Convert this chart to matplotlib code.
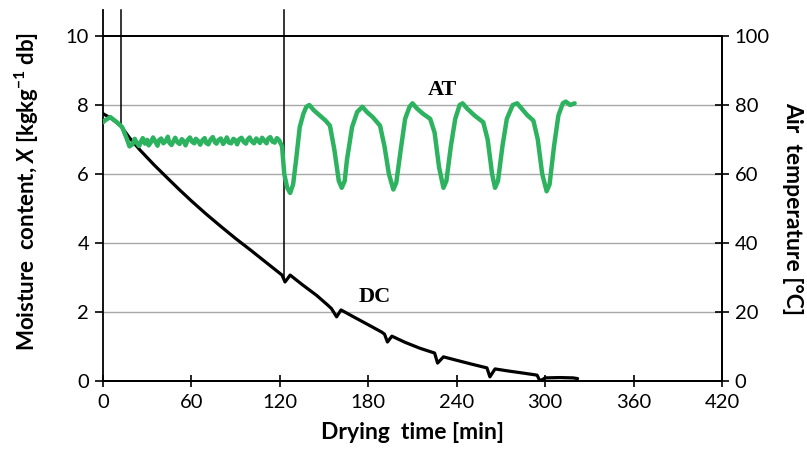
import matplotlib.pyplot as plt

# drying curve (DC): time [min], moisture content [kg/kg db]
dc_time = [0, 6, 12, 18, 25, 35, 45, 52, 60, 70, 80, 90, 100, 110, 121.5, 123.5, 127,
           135, 145, 152.5, 155, 158.5, 161.5, 170, 180, 189, 191, 193, 196, 205, 215,
           225, 227, 231, 240, 250, 260.5, 262.5, 266, 275, 285, 294.5, 296.5, 300,
           310, 319, 322]
dc_moisture = [7.75, 7.6, 7.4, 7.05, 6.7, 6.25, 5.83, 5.54, 5.22, 4.84, 4.48, 4.13, 3.8,
               3.46, 3.07, 2.87, 3.07, 2.8, 2.48, 2.2, 2.1, 1.86, 2.06, 1.86, 1.63, 1.42,
               1.36, 1.13, 1.30, 1.12, 0.95, 0.81, 0.52, 0.70, 0.6, 0.49, 0.38, 0.12, 0.35,
               0.29, 0.23, 0.17, 0.0, 0.09, 0.1, 0.09, 0.07]

# air temperature (AT): time [min], temperature [degC]
at_time = [0, 1.5, 5, 9.5, 13, 16, 18, 20, 21.5, 23, 24.5, 26, 27, 28.5, 30, 31, 32.5, 34,
           35.5, 37, 38, 39.5, 41, 42.5, 44, 45, 46.5, 48, 49, 50.5, 52, 53.5, 55, 56,
           57.5, 59, 60.5, 62, 63, 64.5, 66, 67.5, 69, 70, 71.5, 73, 74.5, 76, 77, 78.5,
           80, 81.5, 83, 84, 85.5, 87, 88.5, 90, 91, 92.5, 94, 95.5, 97, 98, 99.5, 101,
           102.5, 104, 105, 106.5, 108, 109.5, 111, 112, 113.5, 115, 116.5, 118, 119.5,
           121.5, 123, 125, 127, 129, 131, 133.5, 136, 138, 140, 143, 147,
           151, 154, 157, 160, 162, 164, 165.5, 169, 172.5, 176, 179, 183, 188, 191,
           194, 197, 199, 202, 205, 208, 210, 213, 217, 222, 225, 228, 231, 233, 236,
           239, 242, 244, 247, 252, 258, 261, 264, 266, 268, 271, 274, 278, 281, 284,
           288, 292, 295, 298, 301, 303, 306, 309, 312, 314, 317, 320]
at_temp = [75, 75.6, 76.5, 75, 73.6, 70.4, 68, 68.6, 70.2, 69, 68.1, 69.6, 70.4, 68.8,
           69.9, 68.3, 69.2, 70.6, 69.4, 68.2, 69.8, 70.3, 68.9, 69.5, 70.8, 69.1, 68.4,
           69.7, 70.5, 69.2, 68.7, 70.1, 69.4, 68.3, 69.9, 70.6, 69.3, 68.9, 70.2, 69.6,
           68.5, 69.8, 70.4, 69.0, 68.6, 70.0, 70.7, 69.2, 68.8, 69.9, 70.3, 68.7, 69.5,
           70.6, 69.1, 68.9, 70.2, 69.7, 68.6, 70.1, 70.5, 69.3, 68.8, 69.9, 70.6, 69.4,
           68.9, 70.3, 69.8, 69.0, 70.5, 69.6, 68.9, 70.2, 70.7, 69.4, 69.1, 70.4, 69.8,
           68, 60, 56, 54.5, 57, 64, 73.6, 77.5, 79.5, 80, 78.5, 77, 75.5, 74,
           67, 58, 56, 58, 64, 73.6, 78, 79.5, 78, 76.5, 74, 68, 60, 55.5, 57.5, 67,
           76, 79.5, 80.5, 79, 77.5, 76, 72, 62, 56, 58, 68, 76, 80, 80.5, 79, 77, 75,
           70, 60, 56, 58, 68, 76, 80, 80.5, 79, 77, 75.5, 70, 60, 55, 57, 68, 77,
           80.5, 81, 80, 80.5]

# phase boundaries drawn as marker lines (time, moisture where the line ends)
phase_times = [12, 123]
phase_moisture = [7.4, 3.0]

x_ticks = [0, 60, 120, 180, 240, 300, 360, 420]
y_ticks = [0, 2, 4, 6, 8, 10]
t_ticks = [0, 20, 40, 60, 80, 100]

green = '#2db360'

plt.rcParams['font.family'] = ['Lato', 'DejaVu Sans']
plt.rcParams['mathtext.fontset'] = 'custom'
plt.rcParams['mathtext.rm'] = 'Lato:bold'
plt.rcParams['mathtext.it'] = 'Lato:italic:bold'

fig = plt.figure(figsize=(8.07, 4.66), dpi=100)
ax = fig.add_axes([0.1276, 0.1824, 0.7671, 0.7403])
ax2 = ax.twinx()

# grid
for y in y_ticks[1:-1]:
    ax.axhline(y, color='#a8a8a8', lw=1.0, zorder=0)

# curves
ax.plot(dc_time, dc_moisture, color='black', lw=2.3, zorder=3,
        solid_joinstyle='round', solid_capstyle='round')
ax2.plot(at_time, at_temp, color=green, lw=3.2, zorder=3,
         solid_joinstyle='round', solid_capstyle='round')

# phase marker lines, reaching above the frame
ax.axvline(0, ymin=0, ymax=1.075, color='black', lw=1.3, clip_on=False)
for t, m in zip(phase_times, phase_moisture):
    ax.plot([t, t], [m, 10.75], color='black', lw=1.1, clip_on=False, zorder=2)

ax.set_xlim(0, 420)
ax.set_ylim(0, 10)
ax2.set_ylim(0, 100)
ax.set_xticks(x_ticks)
ax.set_yticks(y_ticks)
ax2.set_yticks(t_ticks)

for a in (ax, ax2):
    for s in a.spines.values():
        s.set_linewidth(1.3)
ax.spines['left'].set_visible(False)
ax2.spines['left'].set_visible(False)

ax.tick_params(axis='y', direction='out', length=6, width=1.2, labelsize=14.5, pad=4)
ax.tick_params(axis='x', direction='inout', length=9, width=1.2, labelsize=14.5, pad=5)
ax2.tick_params(axis='y', direction='inout', length=10, width=1.2, labelsize=14.5, pad=4)

ax.text(184.5, 2.43, 'DC', fontsize=16, fontweight='bold',
        family='Liberation Serif', ha='center', va='center')
ax2.text(230, 84.3, 'AT', fontsize=16, fontweight='bold',
         family='Liberation Serif', ha='center', va='center')

ax.set_xlabel('Drying  time [min]', fontsize=16.5, fontweight='bold', labelpad=8)
ax.set_ylabel(r'Moisture  content, $\mathit{X}$ [kgkg$^{-1}$ db]', fontsize=16,
              fontweight='bold')
ax.yaxis.set_label_coords(-0.1, 0.55)
ax2.set_ylabel('Air  temperature [°C]', fontsize=16.5, fontweight='bold',
               rotation=270, labelpad=24)

fig.savefig('out.png', dpi=100)
